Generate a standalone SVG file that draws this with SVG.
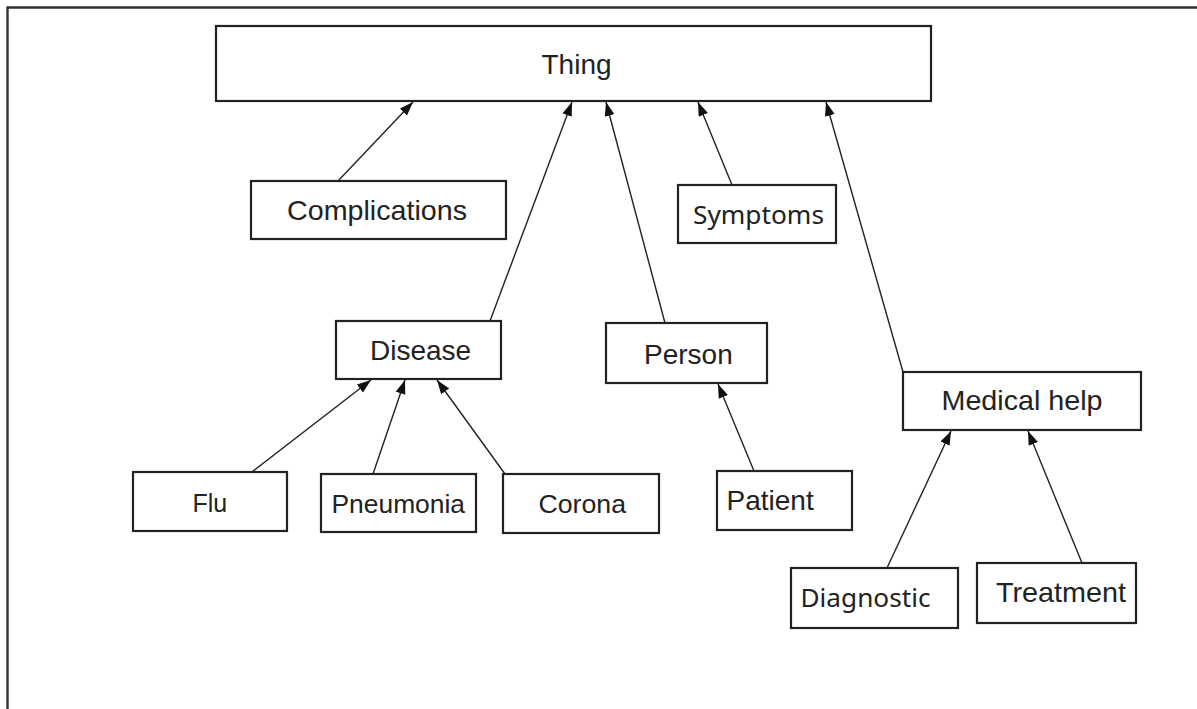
<svg xmlns="http://www.w3.org/2000/svg" width="1197" height="709" viewBox="0 0 1197 709">
<defs>
<style>
.box{fill:#fff;stroke:#222;stroke-width:2.2}
.lbl{font-family:"Liberation Sans",Arial,sans-serif;font-size:28px;fill:#222}
.lbl2{font-family:"Noto Sans","Open Sans",sans-serif;font-size:26px;fill:#222}
.edge{stroke:#222;stroke-width:1.4;fill:none;marker-end:url(#arr)}
.frame{stroke:#333;stroke-width:2.4;fill:none}
</style>
<marker id="arr" markerUnits="userSpaceOnUse" markerWidth="16" markerHeight="12" refX="14" refY="5" orient="auto">
<path d="M0,0 L14,5 L0,10 z" fill="#111"/>
</marker>
</defs>
<rect width="1197" height="709" fill="#fff"/>
<path class="frame" d="M7.5,709 L7.5,7.5 L1197,7.5"/>
<g id="connectors">
<line class="edge" x1="338" y1="181" x2="413" y2="102"/>
<line class="edge" x1="490" y1="321" x2="572" y2="102"/>
<line class="edge" x1="665" y1="323" x2="606" y2="102"/>
<line class="edge" x1="732" y1="185" x2="698" y2="102"/>
<line class="edge" x1="903" y1="372" x2="826" y2="102"/>
<line class="edge" x1="252" y1="472" x2="371" y2="380"/>
<line class="edge" x1="373" y1="474" x2="405" y2="380"/>
<line class="edge" x1="505" y1="474" x2="437" y2="380"/>
<line class="edge" x1="754" y1="471" x2="718" y2="384"/>
<line class="edge" x1="887" y1="568" x2="951" y2="431"/>
<line class="edge" x1="1082" y1="563" x2="1028" y2="431"/>
</g>
<g id="thing"><rect class="box" x="216" y="26" width="715" height="75"/><text class="lbl" x="541.5" y="74">Thing</text></g>
<g id="complications"><rect class="box" x="251" y="181" width="255" height="58"/><text class="lbl" x="287" y="219.5" textLength="180" lengthAdjust="spacingAndGlyphs">Complications</text></g>
<g id="symptoms"><rect class="box" x="678" y="185" width="158" height="58"/><text class="lbl2" x="693" y="223.5" textLength="131" lengthAdjust="spacingAndGlyphs">Symptoms</text></g>
<g id="disease"><rect class="box" x="336" y="321" width="165" height="58"/><text class="lbl" x="370" y="360">Disease</text></g>
<g id="person"><rect class="box" x="606" y="323" width="161" height="60"/><text class="lbl" x="644" y="363.5">Person</text></g>
<g id="medical-help"><rect class="box" x="903" y="372" width="238" height="58"/><text class="lbl" x="941.5" y="410" textLength="161" lengthAdjust="spacingAndGlyphs">Medical help</text></g>
<g id="flu"><rect class="box" x="133" y="472" width="154" height="59"/><text class="lbl" x="192.5" y="512" style="font-size:25px">Flu</text></g>
<g id="pneumonia"><rect class="box" x="321" y="474" width="155" height="58"/><text class="lbl" x="331.5" y="513" style="font-size:26.4px">Pneumonia</text></g>
<g id="corona"><rect class="box" x="503" y="474" width="156" height="59"/><text class="lbl" x="538.5" y="513" style="font-size:26.7px">Corona</text></g>
<g id="patient"><rect class="box" x="717" y="471" width="135" height="59"/><text class="lbl" x="726.5" y="509.5">Patient</text></g>
<g id="diagnostic"><rect class="box" x="791" y="568" width="167" height="60"/><text class="lbl2" x="800.5" y="607" textLength="130" lengthAdjust="spacingAndGlyphs">Diagnostic</text></g>
<g id="treatment"><rect class="box" x="977" y="563" width="159" height="60"/><text class="lbl" x="996" y="602" textLength="130" lengthAdjust="spacingAndGlyphs">Treatment</text></g>
</svg>
